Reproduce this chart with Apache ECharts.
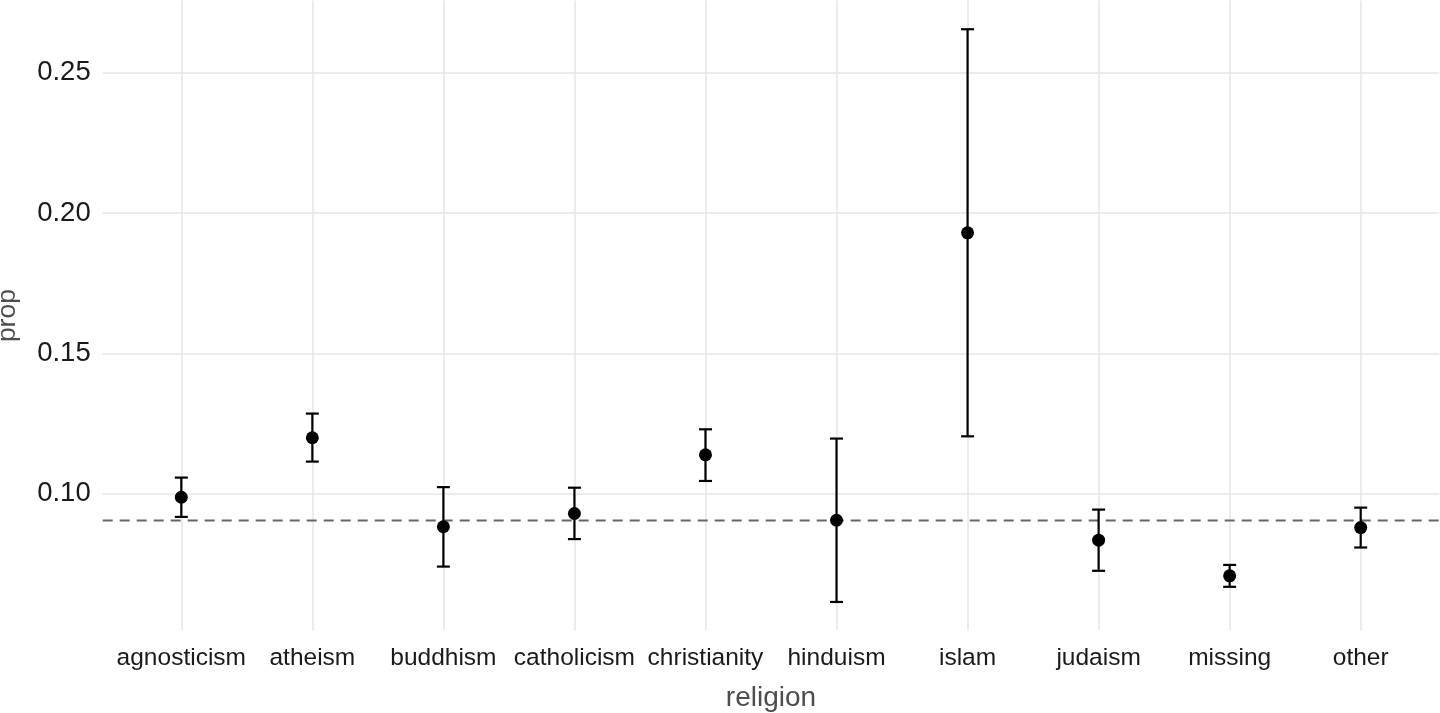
<!DOCTYPE html>
<html>
<head>
<meta charset="utf-8">
<script src="https://cdn.jsdelivr.net/npm/echarts@6/dist/echarts.min.js"></script>
<style>
html,body{margin:0;padding:0;background:#fff;}
#chart{width:1440px;height:713px;}
</style>
</head>
<body>
<div id="chart"></div>
<script>
const categories = ['agnosticism','atheism','buddhism','catholicism','christianity','hinduism','islam','judaism','missing','other'];
const prop  = [0.0988,0.1200,0.0883,0.0930,0.1139,0.0906,0.1930,0.0835,0.0708,0.0880];
const lower = [0.0918,0.1115,0.0741,0.0839,0.1046,0.0615,0.1205,0.0726,0.0669,0.0809];
const upper = [0.1058,0.1286,0.1024,0.1022,0.1230,0.1197,0.2655,0.0944,0.0747,0.0951];
const overall = 0.0905;
const yTickLabels = ['0.10','0.15','0.20','0.25'];

const yMin = 0.0513, yMax = 0.2757;
const FONT = '"Liberation Sans", Arial, Helvetica, sans-serif';

const chart = echarts.init(document.getElementById('chart'), null, {renderer:'canvas'});
const option = {
  animation: false,
  backgroundColor: '#ffffff',
  textStyle: {fontFamily: FONT},
  grid: [
    {left: 102.7, right: 0.7, top: 0.6, bottom: 82.4, containLabel: false, outerBoundsMode: 'none'},
    {left: 181.3, right: 79.3, top: 0.6, bottom: 82.4, containLabel: false, outerBoundsMode: 'none'}
  ],
  xAxis: [
    {gridIndex: 0, type: 'value', min: 0, max: 1, show: false},
    {gridIndex: 1, type: 'value', min: 0, max: 9, interval: 1,
     axisLine: {show: false}, axisTick: {show: false},
     axisLabel: {fontFamily: FONT, fontSize: 24.5, color: '#1a1a1a', margin: 15,
       formatter: v => categories[Math.round(v)] || ''},
     splitLine: {show: true, lineStyle: {color: '#e6e6e6', width: 1.5}},
     name: 'religion', nameLocation: 'middle', nameGap: 54,
     nameTextStyle: {fontFamily: FONT, fontSize: 28, color: '#4d4d4d'}}
  ],
  yAxis: [
    {gridIndex: 0, type: 'value', min: yMin, max: yMax,
     axisLine: {show: false}, axisTick: {show: false},
     axisLabel: {fontFamily: FONT, fontSize: 27.5, color: '#1a1a1a', margin: 12,
       showMinLabel: false, showMaxLabel: false,
       formatter: v => { const s = v.toFixed(2); return yTickLabels.includes(s) ? s : ''; }},
     splitLine: {show: true, showMinLine: false, showMaxLine: false, lineStyle: {color: '#e6e6e6', width: 1.5}},
     name: 'prop', nameLocation: 'middle', nameGap: 82,
     nameTextStyle: {fontFamily: FONT, fontSize: 26.5, color: '#4d4d4d'}},
    {gridIndex: 1, type: 'value', min: yMin, max: yMax, show: false, splitLine: {show: false}}
  ],
  series: [
    {type: 'line', xAxisIndex: 0, yAxisIndex: 0, data: [[0, overall],[1, overall]],
     symbol: 'none', silent: true, z: 1,
     lineStyle: {color: '#666666', width: 2, type: [10, 7]}},
    {type: 'custom', xAxisIndex: 1, yAxisIndex: 1, z: 2,
     data: categories.map((c, i) => [i, lower[i], upper[i]]),
     renderItem: function(params, api) {
       const x = api.value(0);
       const lo = api.coord([x, api.value(1)]);
       const hi = api.coord([x, api.value(2)]);
       const hw = 6.5;
       const st = {stroke: '#000', lineWidth: 2.2};
       return {type: 'group', children: [
         {type: 'line', shape: {x1: lo[0], y1: lo[1], x2: hi[0], y2: hi[1]}, style: st},
         {type: 'line', shape: {x1: lo[0]-hw, y1: lo[1], x2: lo[0]+hw, y2: lo[1]}, style: st},
         {type: 'line', shape: {x1: hi[0]-hw, y1: hi[1], x2: hi[0]+hw, y2: hi[1]}, style: st}
       ]};
     }},
    {type: 'scatter', xAxisIndex: 1, yAxisIndex: 1, z: 3,
     data: categories.map((c, i) => [i, prop[i]]),
     symbol: 'circle', symbolSize: 13, itemStyle: {color: '#000', opacity: 1}}
  ]
};
chart.setOption(option);
</script>
</body>
</html>
